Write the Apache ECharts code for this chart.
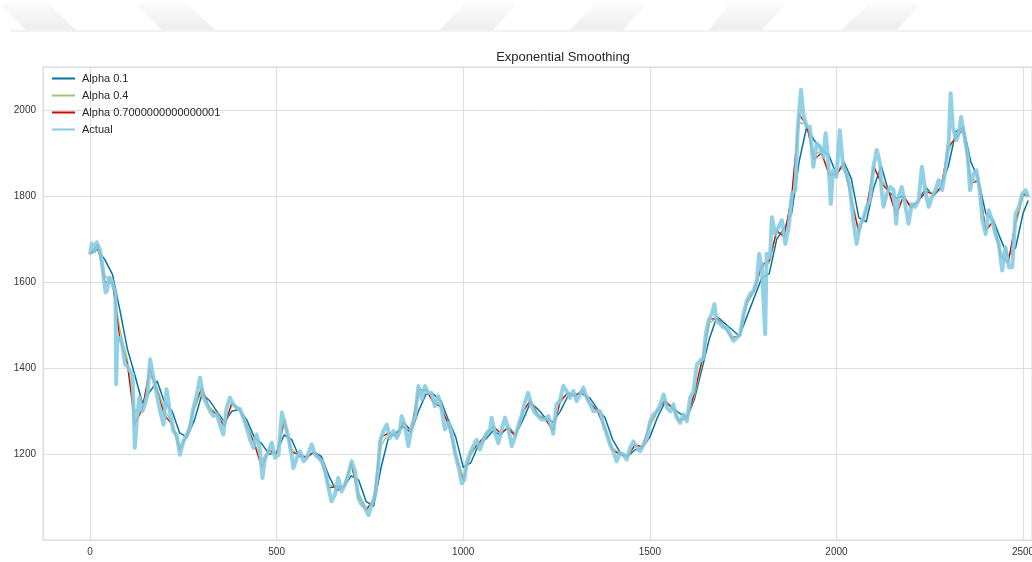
<!DOCTYPE html>
<html>
<head>
<meta charset="utf-8">
<title>Exponential Smoothing</title>
<script src="https://cdn.jsdelivr.net/npm/echarts@6/dist/echarts.min.js"></script>
<style>
  html, body { margin: 0; padding: 0; background: #ffffff; }
  #chart { width: 1032px; height: 562px; }
</style>
</head>
<body>
<div id="chart"></div>
<script>
// Observed series: day index and value
const actualDays = [
  0,5,12,18,27,33,38,42,46,52,58,64,68,70,73,80,86,94,100,107,114,120,126,132,140,147,154,161,170,179,
  188,197,205,214,223,232,241,250,259,268,277,286,295,304,313,322,331,340,348,357,366,375,384,393,
  402,411,420,429,438,446,455,462,469,478,487,496,505,514,523,531,540,545,554,563,572,581,594,603,612,
  621,630,639,647,656,665,674,683,692,701,710,719,728,737,746,755,764,772,777,786,795,804,813,822,
  830,835,844,853,862,871,880,889,897,906,915,924,933,942,951,960,969,978,987,996,1003,1009,1018,1027,
  1036,1045,1054,1063,1072,1076,1085,1094,1103,1112,1121,1130,1139,1147,1156,1165,1174,1183,1192,1201,
  1210,1219,1228,1232,1241,
  1250,1259,1268,1277,1286,1295,1304,1313,1322,1331,1340,1349,1358,1367,1376,1385,1393,1402,1411,1420,
  1429,1438,1447,1456,1465,1474,1483,1492,1501,1510,1519,1528,1537,1546,1555,1563,1572,1581,1590,1599,
  1608,1617,1626,1635,1644,1650,
  1657,1666,1673,1679,1688,1697,1706,1715,1724,1733,1742,1751,1760,1769,1778,1787,1793,1800,1809,1813,
  1822,1827,1836,1845,1854,1863,1872,1881,1890,1896,1905,1911,1920,1929,1938,1947,1956,1965,1971,1978,
  1985,1991,2000,2009,2018,2027,2036,2045,2054,2063,
  2072,2081,2090,2099,2108,2117,2121,2126,2135,2144,2153,2160,2166,2175,2184,2193,2202,2211,2220,2229,
  2238,2247,2256,2265,2274,2283,2292,2301,2306,2312,2321,2328,2334,2343,2352,2358,2367,2375,2384,2391,
  2400,2408,2417,2426,2435,2444,2453,2462,2471,2480,2489,2498,2507,2514
];
const actualValues = [
  1665,1690,1672,1693,1674,1640,1600,1576,1582,1611,1604,1585,1580,1363,1472,1470,1456,1409,1405,1394,1386,1215,1285,1332,1300,1316,1340,1421,1378,1339,
  1300,1269,1351,1300,1254,1246,1199,1230,1246,1262,1308,1339,1378,1332,1316,1300,1289,1293,1269,1246,1308,1332,1316,1308,
  1305,1285,1262,1234,1215,1246,1215,1145,1192,1207,1227,1192,1199,1297,1269,1242,1199,1168,1192,1207,1184,1192,1223,1199,1192,
  1184,1161,1122,1091,1106,1145,1114,1129,1153,1184,1161,1098,1083,1075,1059,1083,1106,1168,1230,1254,1269,1238,1254,1238,
  1254,1289,1265,1219,1265,1289,1359,1328,1359,1343,1343,1312,1335,1304,1258,1273,1250,1203,1172,1133,1141,1180,1203,1219,
  1234,1211,1234,1250,1258,1285,1250,1226,1258,1285,1258,1219,1242,1265,1289,1320,1343,1312,1296,1289,
  1281,1281,1289,1290,1248,
  1316,1324,1359,1347,1331,1347,1324,1339,1355,1331,1316,1300,1300,1300,1269,1246,1223,1207,1184,1203,
  1199,1188,1215,1230,1215,1207,1223,1238,1277,1293,1300,1316,1339,1308,1300,1316,1285,1273,1293,1277,
  1331,1347,1409,1417,1425,1480,
  1510,1526,1549,1510,1503,1495,1495,1479,1464,1471,1479,1526,1557,1573,1580,1604,1666,1635,1479,1666,
  1658,1751,1712,1728,1744,1689,1728,1806,1814,1953,2047,1992,1961,1961,1868,1922,1915,1891,1946,1884,
  1782,1860,1845,1953,1868,1852,1821,1744,1689,1732,
  1748,1775,1790,1868,1907,1876,1814,1775,1806,1821,1814,1736,1798,1821,1782,1736,1782,1775,1790,1868,
  1814,1775,1798,1814,1837,1814,1860,1930,2039,1961,1930,1946,1984,1938,1891,1814,1852,1860,1814,1744,
  1712,1767,1744,1712,1689,1627,1681,1635,1635,1759,1775,1806,1814,1798
];

// Smoothed fits, sampled every 20 days (last sample at day 2514)
const smoothDays = [];
for (let d = 0; d <= 2500; d += 20) smoothDays.push(d);
smoothDays.push(2514);

const alpha01Values = [
  1665,1676,1652,1618,1535,1445,1385,1320,1345,1370,
  1320,1300,1250,1240,1280,1340,1325,1300,1275,1300,
  1305,1280,1240,1225,1200,1205,1245,1235,1195,1195,
  1205,1195,1150,1115,1125,1150,1140,1090,1080,1170,
  1240,1250,1265,1250,1300,1340,1340,1325,1280,1240,
  1170,1180,1220,1235,1255,1245,1265,1245,1280,1320,
  1305,1285,1275,1300,1335,1340,1340,1330,1305,1285,
  1235,1205,1195,1210,1215,1240,1285,1320,1310,1295,
  1285,1330,1400,1470,1520,1505,1490,1475,1520,1565,
  1610,1620,1700,1725,1760,1880,1960,1930,1910,1895,
  1850,1880,1840,1750,1740,1820,1870,1810,1795,1800,
  1775,1790,1820,1800,1820,1870,1950,1960,1880,1840,
  1760,1745,1700,1660,1680,1760,1790
];
const alpha04Values = [
  1665,1684,1615,1600,1490,1420,1300,1300,1385,1355,
  1300,1275,1220,1240,1305,1350,1310,1295,1265,1315,
  1305,1270,1228,1185,1205,1200,1270,1212,1198,1192,
  1205,1188,1130,1120,1125,1172,1110,1075,1092,1220,
  1250,1244,1272,1255,1340,1350,1325,1312,1272,1205,
  1145,1198,1224,1242,1262,1250,1262,1243,1295,1328,
  1293,1283,1260,1318,1345,1337,1348,1320,1302,1262,
  1215,1200,1195,1220,1217,1265,1298,1327,1307,1280,
  1284,1338,1412,1505,1518,1497,1472,1475,1548,1580,
  1635,1645,1715,1712,1790,1970,1968,1895,1905,1855,
  1850,1878,1800,1720,1765,1860,1840,1812,1765,1800,
  1772,1790,1812,1805,1820,1905,1940,1955,1840,1835,
  1725,1742,1670,1645,1730,1800,1800
];
const alpha07Values = [
  1665,1688,1600,1600,1468,1410,1270,1305,1400,1345,
  1290,1270,1210,1245,1315,1355,1305,1292,1265,1320,
  1305,1265,1225,1170,1210,1200,1280,1205,1200,1192,
  1205,1186,1122,1125,1125,1180,1100,1070,1095,1240,
  1250,1242,1275,1255,1350,1350,1320,1310,1270,1195,
  1140,1205,1225,1245,1265,1250,1260,1242,1300,1325,
  1290,1282,1255,1325,1342,1335,1350,1318,1300,1258,
  1210,1200,1195,1222,1218,1272,1302,1325,1308,1278,
  1285,1345,1420,1515,1515,1495,1470,1476,1555,1582,
  1640,1650,1720,1705,1800,1990,1965,1885,1900,1850,
  1850,1875,1790,1715,1770,1870,1830,1812,1755,1800,
  1772,1790,1810,1805,1820,1915,1935,1955,1830,1835,
  1720,1740,1660,1645,1740,1805,1800
];

const seriesNames = ['Alpha 0.1', 'Alpha 0.4', 'Alpha 0.7000000000000001', 'Actual'];
const seriesColors = ['#0272a2', '#9fc377', '#ca0b03', '#86cbe2'];

const pairs = (xs, ys) => xs.map((x, i) => [x, ys[i]]);

const FONT = "'Liberation Sans', Arial, sans-serif";
const chart = echarts.init(document.getElementById('chart'), null, { renderer: 'canvas' });

// faint banner stripes across the top
const stripeFill = new echarts.graphic.LinearGradient(0, 0, 0, 1, [
  { offset: 0, color: 'rgba(238,238,238,0.3)' },
  { offset: 1, color: '#eeeeee' }
]);
const stripes = [
  [[0,5],[50,5],[76,30],[26,30]],
  [[136,5],[189,5],[215,30],[162,30]],
  [[463,5],[516,5],[493,30],[440,30]],
  [[593,5],[646,5],[623,30],[570,30]],
  [[728,5],[785,5],[762,30],[709,30]],
  [[868,5],[920,5],[897,30],[841,30]]
].map(pts => ({ type: 'polygon', silent: true, shape: { points: pts }, style: { fill: stripeFill } }));

const lineSeries = (name, color, data, width, z, opacity) => ({
  name, type: 'line', data, showSymbol: false, symbol: 'none',
  color, z,
  lineStyle: { color, width, opacity, join: 'round' },
  emphasis: { disabled: true }
});

chart.setOption({
  animation: false,
  backgroundColor: '#ffffff',
  textStyle: { fontFamily: FONT },
  graphic: stripes.concat([
    { type: 'rect', silent: true, shape: { x: 10, y: 30, width: 1022, height: 2 }, style: { fill: '#f2f2f2' } }
  ]),
  title: {
    text: 'Exponential Smoothing',
    left: 558, top: 46, textAlign: 'center',
    textStyle: { fontSize: 13, fontWeight: 'normal', color: '#262626', fontFamily: FONT }
  },
  legend: {
    data: seriesNames,
    orient: 'vertical',
    left: 52, top: 73,
    icon: 'rect', itemWidth: 23, itemHeight: 2, itemGap: 6,
    padding: 0,
    textStyle: { fontSize: 11, color: '#262626', fontFamily: FONT, padding: [0, 0, 0, 2] }
  },
  grid: {
    left: 43, top: 67, right: 0, bottom: 22,
    outerBoundsMode: 'none',
    containLabel: false,
    show: true, borderColor: '#d9d9d9', borderWidth: 1, backgroundColor: '#ffffff'
  },
  xAxis: {
    type: 'value', min: -126, max: 2524, splitNumber: 5,
    axisLine: { show: false }, axisTick: { show: false },
    splitLine: { show: true, lineStyle: { color: '#dddddd', width: 1 } },
    axisLabel: {
      fontSize: 10, color: '#333333', margin: 7, fontFamily: FONT,
      formatter: v => (v % 500 === 0 ? String(v) : '')
    }
  },
  yAxis: {
    type: 'value', min: 1001, max: 2100, splitNumber: 5,
    axisLine: { show: false }, axisTick: { show: false },
    splitLine: { show: true, lineStyle: { color: '#dddddd', width: 1 } },
    axisLabel: {
      fontSize: 10, color: '#333333', margin: 7, fontFamily: FONT,
      formatter: v => (v % 200 === 0 ? String(v) : '')
    }
  },
  series: [
    lineSeries(seriesNames[0], seriesColors[0], pairs(smoothDays, alpha01Values), 1.5, 2, 1),
    lineSeries(seriesNames[1], seriesColors[1], pairs(smoothDays, alpha04Values), 1.4, 3, 1),
    lineSeries(seriesNames[2], seriesColors[2], pairs(smoothDays, alpha07Values), 1.3, 4, 1),
    lineSeries(seriesNames[3], seriesColors[3], pairs(actualDays, actualValues), 4, 5, 0.9)
  ]
});
</script>
</body>
</html>
